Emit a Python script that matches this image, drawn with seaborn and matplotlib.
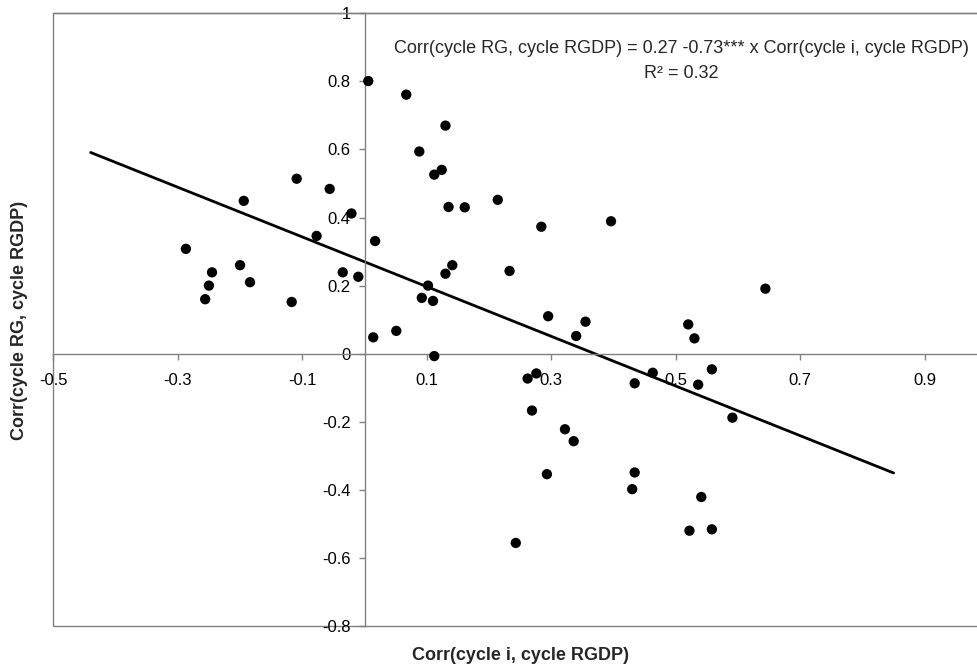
import numpy as np
import pandas as pd
import matplotlib
matplotlib.use("Agg")
import matplotlib.pyplot as plt
from matplotlib.patches import Rectangle
from matplotlib.ticker import FuncFormatter
import seaborn as sns

# Data
corr_i = [0.006, 0.067, 0.130, 0.088, 0.124, 0.112, -0.109, -0.056, -0.194, 0.214,
          0.135, 0.161, -0.021, -0.077, 0.017, -0.287, -0.200, 0.141, -0.245, -0.035,
          0.130, -0.010, -0.184, -0.250, 0.102, -0.256, 0.092, -0.117, 0.110, 0.051,
          0.014, 0.112, 0.284, 0.396, 0.233, 0.644, 0.295, 0.355, 0.520, 0.340,
          0.530, 0.262, 0.276, 0.463, 0.558, 0.434, 0.536, 0.269, 0.591, 0.322,
          0.336, 0.293, 0.434, 0.430, 0.541, 0.522, 0.558, 0.243]
corr_rg = [0.801, 0.761, 0.670, 0.594, 0.540, 0.526, 0.514, 0.484, 0.449, 0.452,
           0.431, 0.430, 0.412, 0.346, 0.331, 0.308, 0.260, 0.260, 0.239, 0.239,
           0.235, 0.226, 0.210, 0.200, 0.200, 0.160, 0.164, 0.152, 0.155, 0.067,
           0.048, -0.007, 0.373, 0.389, 0.243, 0.191, 0.110, 0.094, 0.086, 0.052,
           0.045, -0.073, -0.058, -0.056, -0.046, -0.087, -0.091, -0.167, -0.188, -0.222,
           -0.257, -0.354, -0.349, -0.398, -0.421, -0.520, -0.516, -0.556]

intercept = 0.27
slope = -0.73
fit_x = [-0.44, 0.85]
fit_y = [intercept + slope * v for v in fit_x]

x_ticks = [-0.5, -0.3, -0.1, 0.1, 0.3, 0.5, 0.7, 0.9]
y_ticks = [-0.8, -0.6, -0.4, -0.2, 0.0, 0.2, 0.4, 0.6, 0.8, 1.0]

df = pd.DataFrame({"x": corr_i, "y": corr_rg})
fit_df = pd.DataFrame({"x": fit_x, "y": fit_y})

sns.set_theme(style="white")
plt.rcParams["font.family"] = ["Liberation Sans", "DejaVu Sans"]

W, H = 978, 671
fig = plt.figure(figsize=(W / 100, H / 100), dpi=100)
left_px, right_px, top_px, bot_px = 53.3, 987.0, 13.3, 626.0
ax = fig.add_axes([left_px / W, 1 - bot_px / H, (right_px - left_px) / W, (bot_px - top_px) / H])

sns.lineplot(data=fit_df, x="x", y="y", ax=ax, color="black", linewidth=2.0)
sns.scatterplot(data=df, x="x", y="y", ax=ax, color="black", s=55, edgecolor="none", zorder=3)

ax.set_xlim(-0.5, 1.0)
ax.set_ylim(-0.8, 1.0)

gray = "#808080"
ax.spines["left"].set_position(("data", 0))
ax.spines["bottom"].set_position(("data", 0))
for sp in ["left", "bottom", "top", "right"]:
    ax.spines[sp].set_color(gray)
    ax.spines[sp].set_linewidth(1.0)
ax.add_patch(Rectangle((0, 0), 1, 1, transform=ax.transAxes, fill=False,
                       edgecolor=gray, linewidth=1.0, zorder=0, clip_on=False))

ax.set_xticks(x_ticks)
ax.set_yticks(y_ticks)
fmt = FuncFormatter(lambda v, p: f"{v:g}")
ax.xaxis.set_major_formatter(fmt)
ax.yaxis.set_major_formatter(fmt)
ax.tick_params(axis="both", which="major", direction="out", length=4, width=1,
               color=gray, labelcolor="black", labelsize=12)
ax.tick_params(axis="x", pad=10, bottom=True)
ax.tick_params(axis="y", pad=6, left=True)

ax.set_xlabel("Corr(cycle i, cycle RGDP)", fontsize=13, fontweight="bold")
ax.set_ylabel("Corr(cycle RG, cycle RGDP)", fontsize=13, fontweight="bold")
ax.xaxis.set_label_coords((521 - left_px) / (right_px - left_px), -(656 - bot_px) / (bot_px - top_px))
ax.xaxis.label.set_va("center")
ax.yaxis.set_label_coords(-(left_px - 20) / (right_px - left_px), (bot_px - 320) / (bot_px - top_px))
ax.yaxis.label.set_va("center")

ax.text(0.509, 0.898, "Corr(cycle RG, cycle RGDP) = 0.27 -0.73*** x Corr(cycle i, cycle RGDP)",
        ha="center", va="center", fontsize=13)
ax.text(0.509, 0.822, "R² = 0.32", ha="center", va="center", fontsize=13)

fig.savefig("out.png", dpi=100)
